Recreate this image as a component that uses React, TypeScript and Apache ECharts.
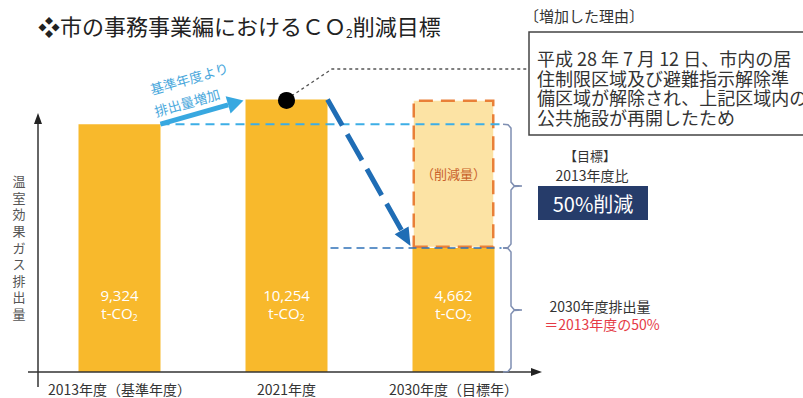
import React, { useEffect, useRef } from 'react';
import * as echarts from 'echarts';

const categories = ['2013年度（基準年度）', '2021年度', '2030年度（目標年）'];
const emissions = [9324, 10254, 4662];
const reductionAmount = [null, null, 5592];
const yMax = 12000;

const titleMain = '❖市の事務事業編におけるＣＯ';
const titleSub = '2';
const titleEnd = '削減目標';
const yTitle = '温室効果ガス排出量';
const arrowText1 = '基準年度より';
const arrowText2 = '排出量増加';
const reductionText = '（削減量）';
const reasonTitle = '〔増加した理由〕';
const reasonLines = [
  '平成 28 年 7 月 12 日、市内の居',
  '住制限区域及び避難指示解除準',
  '備区域が解除され、上記区域内の',
  '公共施設が再開したため',
];
const goalLabel = '【目標】';
const goalBase = '2013年度比';
const goalValue = '50%削減';
const targetLine1 = '2030年度排出量';
const targetLine2 = '＝2013年度の50%';

const FONT = '"Noto Sans CJK JP", "Noto Sans", sans-serif';
const NUMFONT = '"Open Sans", "Noto Sans", sans-serif';

export default function App() {
  const ref = useRef<HTMLDivElement>(null);
  useEffect(() => {
    const chart = echarts.init(ref.current!, null, { renderer: 'svg' });
    const BAR_W = 82;
    chart.setOption({
      animation: false,
      grid: { left: 36, width: 501, top: 53, height: 319 },
      xAxis: {
        type: 'category',
        data: categories,
        axisLine: { show: false },
        axisTick: { show: false },
        axisLabel: { interval: 0, fontSize: 14, color: '#333', margin: 10, fontFamily: FONT },
      },
      yAxis: { type: 'value', min: 0, max: yMax, show: false },
      series: [
        {
          type: 'bar',
          stack: 's',
          data: emissions,
          barWidth: BAR_W,
          itemStyle: { color: '#F8B92C' },
          label: {
            show: true,
            position: 'insideBottom',
            distance: 50,
            formatter: (p: any) => `{v|${Number(p.value).toLocaleString('en-US')}}\n{u|t-CO}{s|2}`,
            rich: {
              v: { fontSize: 15, color: '#fff', lineHeight: 18, fontFamily: NUMFONT },
              u: { fontSize: 15, color: '#fff', lineHeight: 18, fontFamily: NUMFONT },
              s: { fontSize: 9, color: '#fff', lineHeight: 18, fontFamily: NUMFONT, verticalAlign: 'bottom', padding: [8, 0, 0, 0] },
            },
          },
        },
        {
          type: 'bar',
          stack: 's',
          data: reductionAmount,
          barWidth: BAR_W,
          itemStyle: { color: '#FCE3A4', borderColor: '#E98038', borderWidth: 2.5, borderType: [14, 8] },
          label: { show: true, position: 'inside', formatter: reductionText, color: '#C9622B', fontSize: 13, fontFamily: FONT },
        },
      ],
    });

    const P = (i: number, v: number) => chart.convertToPixel({ gridIndex: 0 }, [i, v]) as number[];
    const half = BAR_W / 2;
    const b1 = P(0, emissions[0]);
    const b2 = P(1, emissions[1]);
    const b3 = P(2, emissions[2]);
    const base = P(0, 0)[1];
    const y13 = b1[1];
    const y30 = b3[1];

    const arrowHead = (x1: number, y1: number, x2: number, y2: number, len: number, w: number) => {
      const dx = x2 - x1, dy = y2 - y1;
      const L = Math.hypot(dx, dy);
      const ux = dx / L, uy = dy / L;
      const bx = x2 - ux * len, by = y2 - uy * len;
      return {
        base: [bx, by],
        points: [[x2, y2], [bx - uy * w, by + ux * w], [bx + uy * w, by - ux * w]],
      };
    };

    const brace = (y1: number, y2: number) => {
      const x0 = 503, xl = 511, xt = 522, ym = (y1 + y2) / 2;
      return [
        [x0, y1], [xl - 3, y1 + 0.5], [xl, y1 + 4], [xl, ym - 4], [xl + 3, ym - 0.5], [xt, ym],
        [xl + 3, ym + 0.5], [xl, ym + 4], [xl, y2 - 4], [xl - 3, y2 - 0.5], [x0, y2],
      ];
    };

    const la = arrowHead(b1[0] + half, y13, b2[0] - half - 2, b2[1] + 1, 16, 9);
    const da = arrowHead(b2[0] + half, b2[1], b3[0] - half - 2, y30 - 2, 18, 8);

    const g: any[] = [];
    const Z = 10;
    g.push({
      type: 'text', x: 38, y: 25, z: Z,
      style: {
        text: `{t|${titleMain}}{s|${titleSub}}{t|${titleEnd}}`,
        verticalAlign: 'middle',
        rich: {
          t: { fontSize: 22, fill: '#222', fontFamily: FONT, lineHeight: 26 },
          s: { fontSize: 12, fill: '#222', fontFamily: FONT, lineHeight: 26, verticalAlign: 'bottom', padding: [10, 0, 0, 0] },
        },
      },
    });
    g.push({ type: 'line', z: Z, shape: { x1: 38, y1: base + 15, x2: 38, y2: 122 }, style: { stroke: '#333', lineWidth: 1.5 } });
    g.push({ type: 'polygon', z: Z, shape: { points: [[38, 113], [34, 124], [42, 124]] }, style: { fill: '#222' } });
    g.push({ type: 'line', z: Z, shape: { x1: 28, y1: base, x2: 532, y2: base }, style: { stroke: '#333', lineWidth: 1.5 } });
    g.push({ type: 'polygon', z: Z, shape: { points: [[542, base], [531, base - 4], [531, base + 4]] }, style: { fill: '#222' } });
    g.push({
      type: 'text', x: 19, y: 247, z: Z,
      style: { text: yTitle.split('').join('\n'), align: 'center', verticalAlign: 'middle', fontSize: 13, lineHeight: 16.6, fill: '#555', fontFamily: FONT },
    });
    g.push({ type: 'line', z: Z, shape: { x1: b1[0] + half, y1: y13, x2: b3[0] + half + 7, y2: y13 }, style: { stroke: '#3DAEE6', lineWidth: 2, lineDash: [9, 6] } });
    g.push({ type: 'line', z: Z, shape: { x1: b2[0] + half + 3, y1: y30, x2: b3[0] + half + 7, y2: y30 }, style: { stroke: '#2F72B8', lineWidth: 1.5, lineDash: [8, 5] } });
    g.push({ type: 'line', z: Z, shape: { x1: b1[0] + half, y1: y13, x2: la.base[0], y2: la.base[1] }, style: { stroke: '#38A8E0', lineWidth: 5 } });
    g.push({ type: 'polygon', z: Z, shape: { points: la.points }, style: { fill: '#38A8E0' } });
    g.push({ type: 'text', x: 189, y: 78, rotation: 0.28, z: Z, style: { text: arrowText1, align: 'center', verticalAlign: 'middle', fontSize: 13.5, fill: '#4AA8DC', fontFamily: FONT } });
    g.push({ type: 'text', x: 187, y: 102, rotation: 0.28, z: Z, style: { text: arrowText2, align: 'center', verticalAlign: 'middle', fontSize: 13.5, fill: '#4AA8DC', fontFamily: FONT } });
    g.push({ type: 'line', z: Z, shape: { x1: b2[0] + half, y1: b2[1], x2: da.base[0], y2: da.base[1] }, style: { stroke: '#1F6DB5', lineWidth: 5, lineDash: [30, 10] } });
    g.push({ type: 'polygon', z: Z, shape: { points: da.points }, style: { fill: '#1F6DB5' } });
    g.push({ type: 'polyline', z: Z, shape: { points: [[b2[0], b2[1]], [332, 69], [529, 69]] }, style: { stroke: '#555', lineWidth: 1.3, lineDash: [3, 3], fill: null } });
    g.push({ type: 'circle', z: Z + 1, shape: { cx: b2[0], cy: b2[1] + 1, r: 8.5 }, style: { fill: '#000' } });
    g.push({ type: 'text', x: 524, y: 15, z: Z, style: { text: reasonTitle, verticalAlign: 'middle', fontSize: 15, fill: '#333', fontFamily: FONT } });
    g.push({ type: 'rect', z: Z, shape: { x: 529, y: 32, width: 300, height: 103 }, style: { fill: '#fff', stroke: '#444', lineWidth: 1.5 } });
    reasonLines.forEach((t, i) => {
      g.push({ type: 'text', x: 537, y: 58 + i * 19.7, z: Z + 1, style: { text: t, verticalAlign: 'middle', fontSize: 18, fill: '#333', fontFamily: FONT } });
    });
    g.push({ type: 'polyline', z: Z, shape: { points: brace(y13, y30) }, style: { stroke: '#7F8FB2', lineWidth: 1.5, fill: null } });
    g.push({ type: 'polyline', z: Z, shape: { points: brace(y30, base) }, style: { stroke: '#7F8FB2', lineWidth: 1.5, fill: null } });
    g.push({ type: 'text', x: 590, y: 155, z: Z, style: { text: goalLabel, align: 'center', verticalAlign: 'middle', fontSize: 13, fill: '#333', fontFamily: FONT } });
    g.push({ type: 'text', x: 592, y: 175, z: Z, style: { text: goalBase, align: 'center', verticalAlign: 'middle', fontSize: 14, fill: '#333', fontFamily: FONT } });
    g.push({ type: 'rect', z: Z, shape: { x: 538, y: 186, width: 110, height: 34 }, style: { fill: '#263C6A' } });
    g.push({ type: 'text', x: 593, y: 203, z: Z + 1, style: { text: goalValue, align: 'center', verticalAlign: 'middle', fontSize: 20, fill: '#fff', fontFamily: FONT } });
    g.push({ type: 'text', x: 600, y: 306, z: Z, style: { text: targetLine1, align: 'center', verticalAlign: 'middle', fontSize: 14, fill: '#333', fontFamily: FONT } });
    g.push({ type: 'text', x: 602, y: 324, z: Z, style: { text: targetLine2, align: 'center', verticalAlign: 'middle', fontSize: 14, fill: '#E53A45', fontFamily: FONT } });

    chart.setOption({ graphic: g });
    return () => chart.dispose();
  }, []);
  return <div ref={ref} style={{ position: 'absolute', left: 0, top: 0, width: 803, height: 398 }} />;
}
